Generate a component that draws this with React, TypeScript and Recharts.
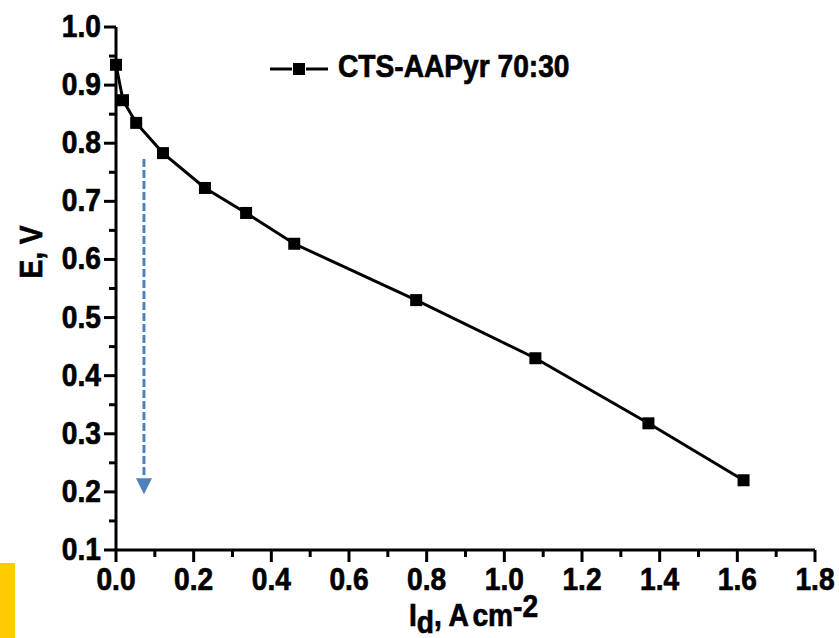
import React from 'react';
import { LineChart, Line, XAxis, YAxis, Legend, ReferenceLine, ReferenceDot } from 'recharts';

const seriesName = 'CTS-AAPyr 70:30';
const currentDensity = [0, 0.018, 0.052, 0.121, 0.229, 0.335, 0.459, 0.773, 1.08, 1.371, 1.616];
const potential = [0.935, 0.874, 0.835, 0.783, 0.723, 0.68, 0.627, 0.53, 0.43, 0.318, 0.22];
const xTicks = [0, 0.1, 0.2, 0.3, 0.4, 0.5, 0.6, 0.7, 0.8, 0.9, 1.0, 1.1, 1.2, 1.3, 1.4, 1.5, 1.6, 1.7, 1.8];
const xMajor = ['0.0', '0.2', '0.4', '0.6', '0.8', '1.0', '1.2', '1.4', '1.6', '1.8'];
const yTicks = [0.1, 0.15, 0.2, 0.25, 0.3, 0.35, 0.4, 0.45, 0.5, 0.55, 0.6, 0.65, 0.7, 0.75, 0.8, 0.85, 0.9, 0.95, 1.0];
const yMajor = ['0.1', '0.2', '0.3', '0.4', '0.5', '0.6', '0.7', '0.8', '0.9', '1.0'];
const arrowX = 0.072;
const arrowStart = 0.773;
const arrowEnd = 0.229;
const arrowTip = 0.196;

const data = currentDensity.map((x, i) => ({ x, y: potential[i] }));

const FONT = '"Liberation Sans", Arial, sans-serif';
const SX = 0.88;

const CText = (props: any) => {
  const { x, y, rotate, anchor, children, size } = props;
  const t = `translate(${x},${y})${rotate ? ` rotate(${rotate})` : ''} scale(${SX},1)`;
  return (
    <text
      transform={t}
      x={0}
      y={0}
      textAnchor={anchor || 'start'}
      fontFamily={FONT}
      fontWeight="bold"
      fontSize={size || 32}
      fill="#000"
      stroke="#000"
      strokeWidth={0.7}
    >
      {children}
    </text>
  );
};

const XTick = (props: any) => {
  const { x, y, payload } = props;
  const label = payload.value.toFixed(1);
  const major = xMajor.includes(label);
  return (
    <g>
      <line x1={x} x2={x} y1={y} y2={y + (major ? 12 : 7)} stroke="#000" strokeWidth={3} />
      {major && (
        <CText x={x} y={y + 40} anchor="middle">
          {label}
        </CText>
      )}
    </g>
  );
};

const YTick = (props: any) => {
  const { x, y, payload } = props;
  const label = payload.value.toFixed(1);
  const major = Math.abs(payload.value * 10 - Math.round(payload.value * 10)) < 1e-6;
  return (
    <g>
      <line x1={x} x2={x - (major ? 12 : 7)} y1={y} y2={y} stroke="#000" strokeWidth={3} />
      {major && yMajor.includes(label) && (
        <CText x={x - 15} y={y + 10} anchor="end">
          {label}
        </CText>
      )}
    </g>
  );
};

const Square = (props: any) => {
  const { cx, cy, index } = props;
  if (cx == null || cy == null) return <g key={index} />;
  return <rect key={index} x={cx - 6} y={cy - 6} width={12} height={12} fill="#000" />;
};

const ArrowHead = (props: any) => {
  const { cx, cy } = props;
  return <path d={`M${cx - 8},${cy - 16} L${cx + 8},${cy - 16} L${cx},${cy} Z`} fill="#4F81BD" />;
};

const XLabel = (props: any) => {
  const { viewBox } = props;
  const cx = viewBox.x + viewBox.width / 2 + 8;
  return (
    <CText x={cx} y={viewBox.y + 76} anchor="middle">
      <tspan>I</tspan>
      <tspan dy={7}>d</tspan>
      <tspan dy={-7}>, A</tspan>
      <tspan dx={4}>cm</tspan>
      <tspan dy={-9}>-2</tspan>
    </CText>
  );
};

const YLabel = (props: any) => {
  const { viewBox } = props;
  const cx = viewBox.x + 42;
  const cy = viewBox.y + 225;
  return (
    <CText x={cx} y={cy} rotate={-90} anchor="middle">
      E, V
    </CText>
  );
};

const LegendContent = (props: any) => {
  const name = props.payload && props.payload[0] ? props.payload[0].value : seriesName;
  return (
    <svg width={330} height={50}>
      <line x1={5} x2={27} y1={29} y2={29} stroke="#000" strokeWidth={3} />
      <line x1={41} x2={63} y1={29} y2={29} stroke="#000" strokeWidth={3} />
      <rect x={28} y={23} width={12} height={12} fill="#000" />
      <CText x={73} y={37}>
        {name}
      </CText>
    </svg>
  );
};

export default function App() {
  return (
    <div style={{ position: 'absolute', left: 0, top: 0, width: 839, height: 638, background: '#fff' }}>
      <div style={{ position: 'absolute', left: 0, top: 563, width: 15, height: 75, background: '#FFCC00' }} />
      <LineChart width={839} height={638} data={data} margin={{ top: 27, right: 24, bottom: 0, left: 0 }}>
        <XAxis
          dataKey="x"
          type="number"
          domain={[0, 1.8]}
          ticks={xTicks}
          interval={0}
          tickSize={0}
          tickMargin={0}
          tickLine={false}
          height={88}
          stroke="#000"
          strokeWidth={3}
          tick={<XTick />}
          label={<XLabel />}
        />
        <YAxis
          dataKey="y"
          type="number"
          domain={[0.1, 1.0]}
          ticks={yTicks}
          interval={0}
          tickSize={0}
          tickMargin={0}
          tickLine={false}
          width={116}
          stroke="#000"
          strokeWidth={3}
          tick={<YTick />}
          label={<YLabel />}
        />
        <Legend verticalAlign="middle" align="center" content={<LegendContent />} wrapperStyle={{ top: 40, left: 265, width: 330, height: 50 }} />
        <ReferenceLine
          segment={[{ x: arrowX, y: arrowStart }, { x: arrowX, y: arrowEnd }]}
          stroke="#4F81BD"
          strokeWidth={3}
          strokeDasharray="8 3"
        />
        <ReferenceDot x={arrowX} y={arrowTip} shape={<ArrowHead />} />
        <Line
          name={seriesName}
          dataKey="y"
          stroke="#000"
          strokeWidth={3}
          dot={<Square />}
          activeDot={false}
          isAnimationActive={false}
        />
      </LineChart>
    </div>
  );
}
